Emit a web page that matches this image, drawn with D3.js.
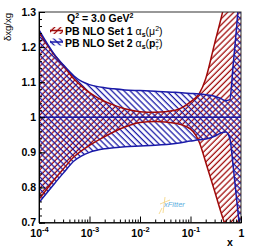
<!DOCTYPE html>
<html>
<head>
<meta charset="utf-8">
<script src="https://cdn.jsdelivr.net/npm/d3@7"></script>
<style>
  body { margin: 0; background: #fff; }
  text { font-family: "Liberation Sans", Arial, sans-serif; }
</style>
</head>
<body>
<svg id="chart" width="255" height="248"></svg>
<script>
// x points and the two uncertainty bands
var xs      = [1e-4, 2e-4, 3e-4, 5e-4, 7e-4, 1e-3, 2e-3, 3e-3, 5e-3, 1e-2, 2e-2, 5e-2, 0.1, 0.15, 0.2, 0.3, 0.4, 0.5, 0.6, 0.7, 0.8, 0.9, 1.0];
var set1Up  = [1.243, 1.178, 1.148, 1.108, 1.088, 1.07, 1.045, 1.035, 1.024, 1.016, 1.014, 1.02, 1.044, 1.068, 1.11, 1.21, 1.28, 1.34, 1.4, 1.4, 1.4, 1.4, 1.4];
var set1Lo  = [0.766, 0.822, 0.852, 0.888, 0.905, 0.92, 0.945, 0.958, 0.972, 0.985, 0.988, 0.983, 0.966, 0.928, 0.872, 0.79, 0.73, 0.69, 0.68, 0.68, 0.68, 0.68, 0.68];
var set2Up  = [1.249, 1.18, 1.15, 1.117, 1.102, 1.093, 1.084, 1.081, 1.078, 1.076, 1.074, 1.071, 1.068, 1.066, 1.064, 1.06, 1.053, 1.047, 1.05, 1.15, 1.24, 1.33, 1.4];
var set2Lo  = [0.757, 0.81, 0.84, 0.876, 0.89, 0.9, 0.91, 0.913, 0.916, 0.918, 0.92, 0.925, 0.932, 0.936, 0.938, 0.946, 0.955, 0.958, 0.94, 0.86, 0.78, 0.71, 0.65];

var yTicks = [0.7, 0.8, 0.9, 1.0, 1.1, 1.2, 1.3];
var yTickLabels = ["0.7", "0.8", "0.9", "1", "1.1", "1.2", "1.3"];
var xTicks = [1e-4, 1e-3, 1e-2, 1e-1, 1];
var xTickExp = ["-4", "-3", "-2", "-1", null];

var red = "#a00a0a", blue = "#1a1aa8";

var svg = d3.select("#chart");
var pL = 39, pR = 241, pT = 12, pB = 222.5;

var x = d3.scaleLog().domain([1e-4, 1]).range([pL, pR]);
var y = d3.scaleLinear().domain([0.7, 1.3]).range([pB, pT]);

var defs = svg.append("defs");
function hatch(id, color, angle) {
  defs.append("pattern")
      .attr("id", id)
      .attr("patternUnits", "userSpaceOnUse")
      .attr("width", 4.3).attr("height", 4.3)
      .attr("patternTransform", "rotate(" + angle + ")")
    .append("line")
      .attr("x1", 2).attr("y1", 0).attr("x2", 2).attr("y2", 4.3)
      .attr("stroke", color).attr("stroke-width", 1.3);
}
hatch("hRed", red, 45);
hatch("hBlue", blue, -45);

defs.append("clipPath").attr("id", "clip")
  .append("rect").attr("x", pL).attr("y", pT)
  .attr("width", pR - pL).attr("height", pB - pT);

function rows(up, lo) {
  return xs.map(function(d, i) { return {x: d, up: up[i], lo: lo[i]}; });
}
var band1 = rows(set1Up, set1Lo);
var band2 = rows(set2Up, set2Lo);

var area = d3.area()
    .x(function(d) { return x(d.x); })
    .y0(function(d) { return y(d.lo); })
    .y1(function(d) { return y(d.up); })
    .curve(d3.curveMonotoneX);
function edge(key) {
  return d3.line()
    .x(function(d) { return x(d.x); })
    .y(function(d) { return y(d[key]); })
    .curve(d3.curveMonotoneX);
}

var plot = svg.append("g").attr("clip-path", "url(#clip)");

plot.append("path").datum(band1).attr("d", area).attr("fill", "url(#hRed)");
plot.append("path").datum(band2).attr("d", area).attr("fill", "url(#hBlue)");

["up", "lo"].forEach(function(k) {
  plot.append("path").datum(band1).attr("d", edge(k))
    .attr("fill", "none").attr("stroke", red).attr("stroke-width", 1.5);
});
["up", "lo"].forEach(function(k) {
  plot.append("path").datum(band2).attr("d", edge(k))
    .attr("fill", "none").attr("stroke", blue).attr("stroke-width", 1.5);
});

// central values
plot.append("line").attr("x1", pL).attr("x2", pR)
  .attr("y1", y(1)).attr("y2", y(1))
  .attr("stroke", blue).attr("stroke-width", 1.6);

// frame
svg.append("rect").attr("x", pL).attr("y", pT)
  .attr("width", pR - pL).attr("height", pB - pT)
  .attr("fill", "none").attr("stroke", "#333").attr("stroke-width", 1);

// y axis
var yMinor = d3.range(0.7, 1.3001, 0.02);
svg.append("g").attr("transform", "translate(" + pL + ",0)")
  .call(d3.axisLeft(y).tickValues(yMinor).tickSize(-3).tickFormat(""))
  .call(function(g) { g.select(".domain").remove(); });
var gy = svg.append("g").attr("transform", "translate(" + pL + ",0)")
  .call(d3.axisLeft(y).tickValues(yTicks).tickSize(-6).tickPadding(3)
    .tickFormat(function(d, i) { return yTickLabels[i]; }));
gy.select(".domain").attr("stroke", "#000");
gy.selectAll("text").attr("font-size", 10.5).attr("font-weight", "bold").attr("fill", "#000");

// x axis
var xMinor = [];
for (var e = -4; e < 0; e++) {
  for (var m = 2; m <= 9; m++) xMinor.push(m * Math.pow(10, e));
}
svg.append("g").attr("transform", "translate(0," + pB + ")")
  .call(d3.axisBottom(x).tickValues(xMinor).tickSize(-3).tickFormat(""))
  .call(function(g) { g.select(".domain").remove(); });
var gx = svg.append("g").attr("transform", "translate(0," + pB + ")")
  .call(d3.axisBottom(x).tickValues(xTicks).tickSize(-6).tickPadding(5).tickFormat(""));
gx.select(".domain").attr("stroke", "#000");
gx.selectAll(".tick").each(function(d, i) {
  var t = d3.select(this).select("text")
    .attr("font-size", 10.5).attr("font-weight", "bold").attr("fill", "#000")
    .attr("dy", "0.95em");
  if (xTickExp[i] === null) {
    t.text("1");
  } else {
    t.append("tspan").text("10");
    t.append("tspan").attr("font-size", 7.5).attr("dy", -5).text(xTickExp[i]);
  }
});

svg.append("text").attr("x", 230).attr("y", 246)
  .attr("text-anchor", "middle").attr("font-size", 10.5).attr("font-weight", "bold")
  .text("x");

svg.append("text")
  .attr("transform", "translate(11,13) rotate(-90)")
  .attr("text-anchor", "end").attr("font-size", 9.5)
  .text("\u03b4xg/xg");

// header + legend
var hdr = svg.append("text").attr("x", 67).attr("y", 21.5)
  .attr("font-size", 10.5).attr("font-weight", "bold");
hdr.append("tspan").text("Q");
hdr.append("tspan").attr("font-size", 7).attr("dy", -4).text("2");
hdr.append("tspan").attr("dy", 4).text(" = 3.0 GeV");
hdr.append("tspan").attr("font-size", 7).attr("dy", -4).text("2");

var legend = [
  {color: red, pat: "hRed", label: "PB NLO Set 1 ", arg: "\u03bc", sub: null, y: 35},
  {color: blue, pat: "hBlue", label: "PB NLO Set 2 ", arg: "p", sub: "T", y: 46.5}
];
legend.forEach(function(l) {
  svg.append("rect").attr("x", 50).attr("y", l.y - 8).attr("width", 13).attr("height", 7)
    .attr("fill", "url(#" + l.pat + ")");
  svg.append("line").attr("x1", 50).attr("x2", 63).attr("y1", l.y - 4.5).attr("y2", l.y - 4.5)
    .attr("stroke", l.color).attr("stroke-width", 1.5);
  var t = svg.append("text").attr("x", 65).attr("y", l.y).attr("font-size", 10.5);
  t.append("tspan").attr("font-weight", "bold").text(l.label);
  t.append("tspan").text("\u03b1");
  t.append("tspan").attr("font-size", 7).attr("dy", 2).attr("font-weight", "bold").text("s");
  t.append("tspan").attr("dy", -2).text("(");
  t.append("tspan").attr("font-weight", l.sub ? "bold" : "normal").text(l.arg);
  if (l.sub) {
    t.append("tspan").attr("font-size", 6).attr("dy", -4).text("2");
    t.append("tspan").attr("font-size", 6).attr("dx", -3.5).attr("dy", 7).text("T");
    t.append("tspan").attr("dy", -3).text(")");
  } else {
    t.append("tspan").attr("font-size", 7).attr("dy", -4).text("2");
    t.append("tspan").attr("dy", 4).text(")");
  }
});

// xFitter mark
var logo = svg.append("g").attr("transform", "translate(162,206)");
logo.append("path").attr("d", "M3,-9 L1,7 M-2,-2 L8,-6 M0,2 L-3,8")
  .attr("stroke", "#f2d27a").attr("stroke-width", 0.8).attr("fill", "none");
logo.append("text").attr("x", 2).attr("y", 1).attr("font-size", 7.5)
  .attr("font-style", "italic").attr("fill", "#5aaee0").text("xFitter");
</script>
</body>
</html>
